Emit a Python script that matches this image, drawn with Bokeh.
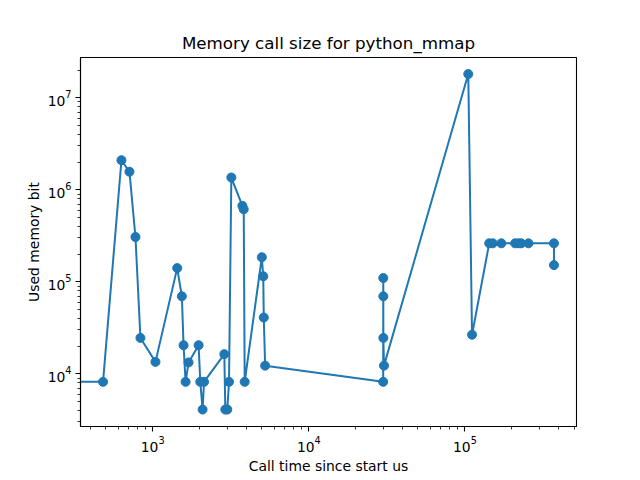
from bokeh.plotting import figure
from bokeh.models import Range1d
from bokeh.embed import file_html
from bokeh.resources import INLINE

# Data (call time in us, used memory in bit)
call_time_us = [1, 481, 631, 710, 776, 835, 1042, 1436, 1538, 1577, 1625, 1698,
                1969, 2018, 2088, 2133, 2877, 2919, 3005, 3083, 3190, 3755, 3830,
                3884, 5001, 5107, 5147, 5252, 29950, 29980, 30000, 30020, 30300,
                105000, 111000, 143000, 150600, 171000, 209500, 220000, 229000,
                255000, 371500, 371600]
used_memory_bit = [8192, 8192, 2097152, 1572864, 307200, 24576, 13500, 141000,
                   69632, 20480, 8192, 13312, 20480, 8192, 4096, 8192, 16384,
                   4096, 4096, 8192, 1360000, 670000, 614000, 8192, 185000,
                   115000, 40960, 12288, 8192, 110000, 69632, 24576, 12288,
                   18100000, 26624, 262144, 262144, 262144, 262144, 262144,
                   262144, 262144, 262144, 152000]

title_text = "Memory call size for python_mmap"
x_label = "Call time since start us"
y_label = "Used memory bit"

FONT = "DejaVu Sans"
BLUE = "#1f77b4"

p = figure(width=632, height=472, x_axis_type="log", y_axis_type="log",
           output_backend="svg", toolbar_location=None,
           x_range=Range1d(345, 518000), y_range=Range1d(2680, 2.74e7),
           frame_width=496, frame_height=369,
           min_border_left=80, min_border_right=56,
           min_border_top=57, min_border_bottom=46,
           title=title_text)

p.title.text_font = FONT
p.title.text_font_size = "16.7px"
p.title.text_font_style = "normal"
p.title.align = "center"
p.title.text_color = "black"

p.line(call_time_us, used_memory_bit, line_width=2.0, color=BLUE)
p.scatter(call_time_us, used_memory_bit, size=9, color=BLUE)

p.xgrid.visible = False
p.ygrid.visible = False
p.outline_line_color = "black"
p.outline_line_width = 1.1
p.outline_line_alpha = 1.0
p.background_fill_color = "white"
p.border_fill_color = "white"

p.xaxis.axis_label = x_label
p.yaxis.axis_label = y_label
for ax in (p.xaxis[0], p.yaxis[0]):
    ax.axis_label_text_font = FONT
    ax.axis_label_text_font_size = "13.9px"
    ax.axis_label_text_font_style = "normal"
    ax.axis_label_text_color = "black"
    ax.major_label_text_font = FONT
    ax.major_label_text_font_size = "13.9px"
    ax.major_label_text_color = "black"
    ax.axis_line_color = "black"
    ax.axis_line_width = 1.1
    ax.major_tick_line_color = "black"
    ax.minor_tick_line_color = "black"
    ax.major_tick_line_width = 1.1
    ax.minor_tick_line_width = 0.8
    ax.major_tick_out = 5
    ax.major_tick_in = 0
    ax.minor_tick_out = 3
    ax.minor_tick_in = 0
    ax.major_label_standoff = 4
    ax.axis_label_standoff = 3

open("out.html", "w").write(file_html(p, INLINE))
